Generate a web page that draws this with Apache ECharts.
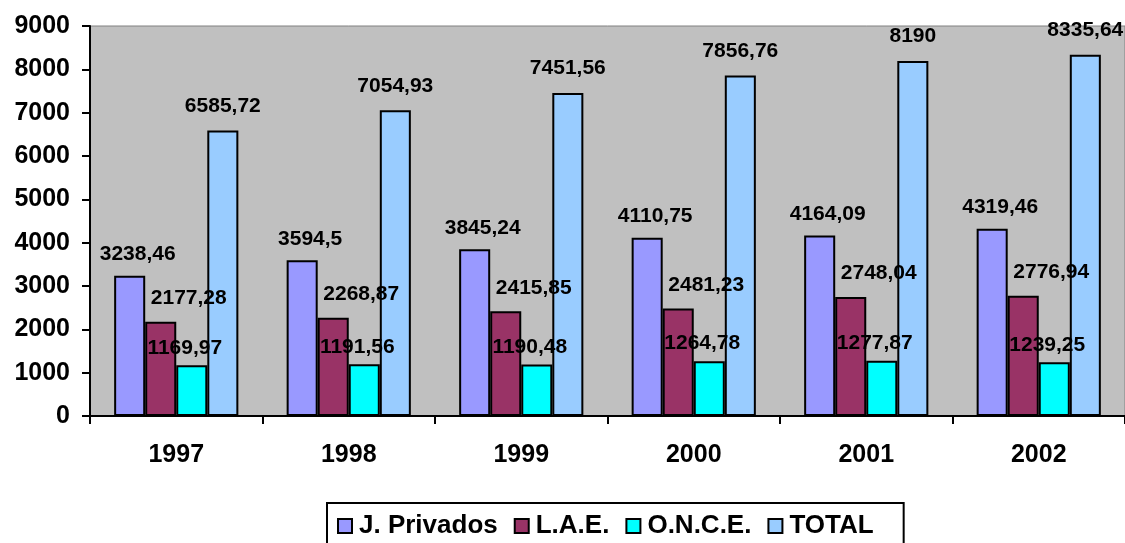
<!DOCTYPE html>
<html lang="es" style="height: 100%">

<head>
    <meta charset="UTF-8">
    <title>Chart</title>
    <script type="text/javascript" src="https://cdn.jsdelivr.net/npm/echarts@6/dist/echarts.min.js"></script>
</head>

<body style="height: 100%; margin: 0; background: #fff">
    <div id="container" style="width: 1125px; height: 543px"></div>
    <script type="text/javascript">
    var years = ['1997', '1998', '1999', '2000', '2001', '2002'];
    var privados = [3238.46, 3594.5, 3845.24, 4110.75, 4164.09, 4319.46];
    var lae = [2177.28, 2268.87, 2415.85, 2481.23, 2748.04, 2776.94];
    var once = [1169.97, 1191.56, 1190.48, 1264.78, 1277.87, 1239.25];
    var total = [6585.72, 7054.93, 7451.56, 7856.76, 8190, 8335.64];

    var myChart = echarts.init(document.getElementById('container'));
    var font = 'Arial, "Liberation Sans", sans-serif';

    function makeSeries(name, data, color, offset, distance) {
        return {
            name: name,
            type: 'bar',
            data: data,
            barGap: '0%',
            barCategoryGap: '28%',
            itemStyle: {
                color: color,
                borderColor: '#000',
                borderWidth: 2
            },
            label: {
                show: true,
                position: 'top',
                distance: distance,
                offset: offset,
                color: '#000',
                fontFamily: font,
                fontWeight: 'bold',
                fontSize: 21,
                formatter: function(p) {
                    return String(p.value).replace('.', ',');
                }
            }
        };
    }

    var option = {
        backgroundColor: '#fff',
        animation: false,
        grid: {
            left: 90,
            right: 0,
            top: 26,
            bottom: 127,
            show: true,
            backgroundColor: '#C0C0C0',
            borderColor: '#808080',
            borderWidth: 1
        },
        legend: {
            left: 327,
            top: 503,
            padding: [10, 30, 20, 10],
            borderColor: '#000',
            borderWidth: 2,
            itemGap: 16,
            itemWidth: 14,
            itemHeight: 14,
            icon: 'rect',
            itemStyle: {
                borderColor: '#000',
                borderWidth: 2
            },
            textStyle: {
                color: '#000',
                fontFamily: font,
                fontWeight: 'bold',
                fontSize: 26,
                padding: [0, 0, 0, 2]
            },
            data: ['J. Privados', 'L.A.E.', 'O.N.C.E.', 'TOTAL']
        },
        xAxis: {
            type: 'category',
            data: years,
            axisLine: { lineStyle: { color: '#000', width: 2 } },
            axisTick: { show: true, length: 8, lineStyle: { color: '#000', width: 2 } },
            axisLabel: {
                color: '#000',
                fontFamily: font,
                fontWeight: 'bold',
                fontSize: 25,
                margin: 27
            }
        },
        yAxis: {
            type: 'value',
            min: 0,
            max: 9000,
            interval: 1000,
            splitLine: { show: false },
            axisLine: { show: true, lineStyle: { color: '#000', width: 2 } },
            axisTick: { show: true, length: 8, lineStyle: { color: '#000', width: 2 } },
            axisLabel: {
                color: '#000',
                fontFamily: font,
                fontWeight: 'bold',
                fontSize: 25,
                margin: 20,
                formatter: function(v) {
                    return String(v);
                }
            }
        },
        series: [
            makeSeries('J. Privados', privados, '#9999FF', [8, 0], 11),
            makeSeries('L.A.E.', lae, '#993366', [28, 0], 13),
            makeSeries('O.N.C.E.', once, '#00FFFF', [-7, 0], 7),
            makeSeries('TOTAL', total, '#99CCFF', [0, 0], 14)
        ]
    };

    myChart.setOption(option);
    </script>
</body>

</html>
